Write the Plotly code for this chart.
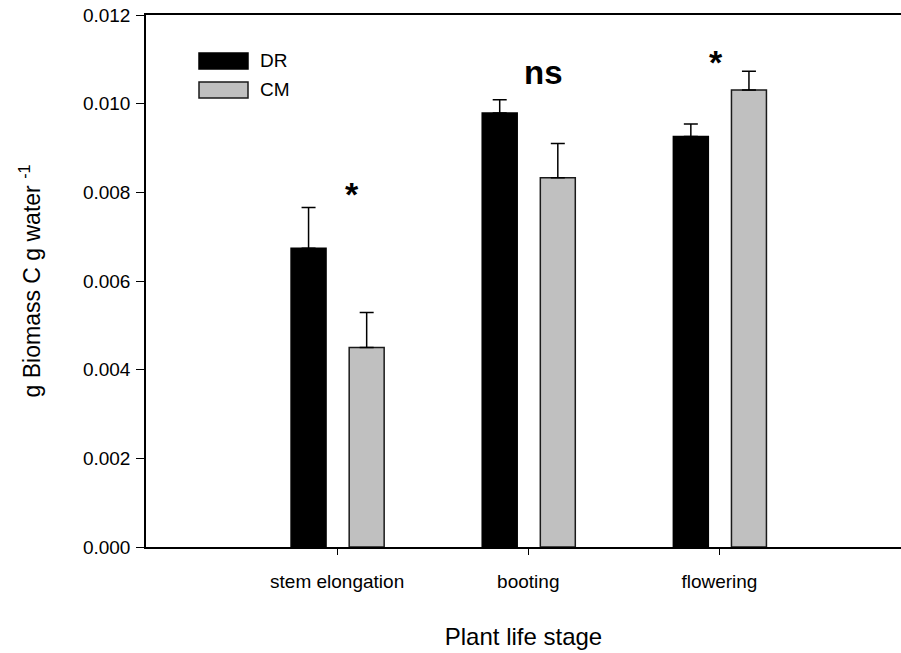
import plotly.graph_objects as go

categories = ["stem elongation", "booting", "flowering"]
cat_pos = [1, 2, 3]
dr_values = [0.00674, 0.00979, 0.00926]
dr_errors = [0.00092, 0.00030, 0.00028]
cm_values = [0.00450, 0.00833, 0.01031]
cm_errors = [0.00079, 0.00077, 0.00042]
sig_labels = ["*", "ns", "*"]
y_ticks = [0, 0.002, 0.004, 0.006, 0.008, 0.010, 0.012]

FONT = "Liberation Sans, Arial, sans-serif"

fig = go.Figure()
fig.add_trace(go.Bar(
    x=cat_pos, y=dr_values, name="DR", offset=-0.241, width=0.183,
    marker=dict(color="black", line=dict(color="black", width=1.5)),
    error_y=dict(type="data", array=dr_errors, arrayminus=[0, 0, 0], symmetric=False,
                 color="black", thickness=1.5, width=7),
    showlegend=False,
))
fig.add_trace(go.Bar(
    x=cat_pos, y=cm_values, name="CM", offset=0.063, width=0.183,
    marker=dict(color="#c0c0c0", line=dict(color="#1a1a1a", width=1.5)),
    error_y=dict(type="data", array=cm_errors, arrayminus=[0, 0, 0], symmetric=False,
                 color="black", thickness=1.5, width=7),
    showlegend=False,
))

# significance labels
sig_x = [1.08, 2.08, 2.98]
sig_y = [0.00796, 0.01071, 0.01094]
sig_size = [34, 33, 34]
for x, y, t, s in zip(sig_x, sig_y, sig_labels, sig_size):
    fig.add_annotation(x=x, y=y, text="<b>%s</b>" % t, showarrow=False,
                       font=dict(family=FONT, size=s, color="black"),
                       xanchor="center", yanchor="middle")

# legend drawn manually
leg = [("DR", "black", "black", 61), ("CM", "#c0c0c0", "#1a1a1a", 90)]
W, H = 901, 653
L, T, B = 146, 15, 106
pw, ph = W - L, H - T - B
for name, fill, line, yc in leg:
    x0 = (199 - L) / pw
    x1 = (248 - L) / pw
    y0 = 1 - (yc - 8 - T) / ph
    y1 = 1 - (yc + 8 - T) / ph
    fig.add_shape(type="rect", xref="paper", yref="paper", x0=x0, x1=x1, y0=y0, y1=y1,
                  fillcolor=fill, line=dict(color=line, width=1.5))
    fig.add_annotation(xref="paper", yref="paper", x=(258 - L) / pw, y=1 - (yc - T) / ph,
                       text=name, showarrow=False, xanchor="left", yanchor="middle",
                       font=dict(family=FONT, size=19, color="black"))

fig.update_layout(
    width=W, height=H,
    margin=dict(l=L, r=0, t=T, b=B),
    plot_bgcolor="white", paper_bgcolor="white",
    font=dict(family=FONT, color="black"),
    barmode="overlay",
    xaxis=dict(
        range=[0, 3.95], tickvals=cat_pos, ticktext=categories,
        ticks="outside", ticklen=6, tickwidth=1, tickcolor="black",
        showline=True, linecolor="black", linewidth=1.5, mirror=True,
        showgrid=False, zeroline=False, ticklabelstandoff=10,
        tickfont=dict(family=FONT, size=19),
        title=dict(text="Plant life stage", font=dict(family=FONT, size=24), standoff=38),
    ),
    yaxis=dict(
        range=[0, 0.012], tickvals=y_ticks, tickformat=".3f",
        ticks="outside", ticklen=8, tickwidth=1, tickcolor="black",
        showline=True, linecolor="black", linewidth=1.5, mirror=False,
        showgrid=False, zeroline=False, ticklabelstandoff=2,
        tickfont=dict(family=FONT, size=19),
        title=dict(text="g Biomass C g water <sup>-1</sup>", font=dict(family=FONT, size=23), standoff=36),
    ),
)

fig.write_html("out.html")
